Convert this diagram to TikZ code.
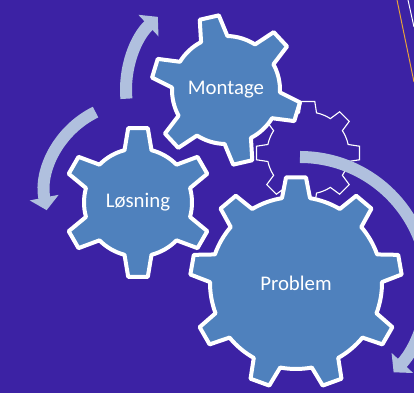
\documentclass[tikz,border=0pt]{standalone}
\usepackage{fontspec}
\setmainfont{Carlito}
\usetikzlibrary{arrows.meta}

\definecolor{slidebg}{RGB}{60,34,164}
\definecolor{gearblue}{RGB}{79,129,189}
\definecolor{arrowblue}{RGB}{176,192,222}
\definecolor{lineorange}{RGB}{232,162,58}

% #1 style, #2 centre, #3 teeth, #4 outer r, #5 inner r, #6 tip half angle, #7 base half angle, #8 first tooth
\newcommand{\drawgear}[8]{%
  \draw[#1, shift={(#2)}] (#8-#7:#5)
    \foreach \k [evaluate=\k as \a using #8+(\k-1)*360/#3] in {1,...,#3} {
      -- (\a-#6:#4) -- (\a+#6:#4) -- (\a+#7:#5)
      arc[start angle=\a+#7, end angle=\a+360/#3-#7, radius=#5]
    } -- cycle;}

\begin{document}
\begin{tikzpicture}[x=0.025cm, y=0.025cm,
    gearbody/.style ={fill=gearblue, draw=white, line width=0.1cm, line join=round},
    gearghost/.style ={draw=white, line width=0.8pt, line join=miter},
    gearlabel/.style ={text=white, font=\fontsize{14.8}{18}\selectfont},
    cyclearrow/.style ={draw=arrowblue, line width=0.3cm,
      -{Triangle[width=0.72cm, length=0.32cm]}}]
   \clip (0,0) rectangle (414,393);
   \fill[slidebg] (0,0) rectangle (414,393);
   \draw[lineorange, line width=0.7pt] (397,393) -- (414,311);
   \draw[white, line width=0.7pt] (408,393) -- (414,366);

   \coordinate (c-ghost) at (308,240);
   \coordinate (c-los)   at (138,190.5);
   \coordinate (c-mont)  at (226,303);
   \coordinate (c-prob)  at (296,110);

   \drawgear{gearghost}{c-ghost}{8}{52}{41}{7.5}{12}{0}
   \drawgear{gearbody}{c-prob}{9}{106}{86}{5.4}{9.4}{90}
   \drawgear{gearbody}{c-los}{6}{75}{54}{7.5}{14.5}{90}
   \drawgear{gearbody}{c-mont}{6}{75}{54}{7.5}{14.5}{103}

   \node[gearlabel] (losning) at (c-los)  {Løsning};
   \node[gearlabel] (montage) at (c-mont) {Montage};
   \node[gearlabel] (problem) at (c-prob) {Problem};

   \draw[cyclearrow] (c-mont) ++(185:100) arc[start angle=185, end angle=133, radius=100];
   \draw[cyclearrow] (135,200) ++(116:90) arc[start angle=116, end angle=191, radius=90];
   \draw[cyclearrow] (300,108) ++(90:128) arc[start angle=90, end angle=-43, radius=128];
 \end{tikzpicture}
\end{document}
